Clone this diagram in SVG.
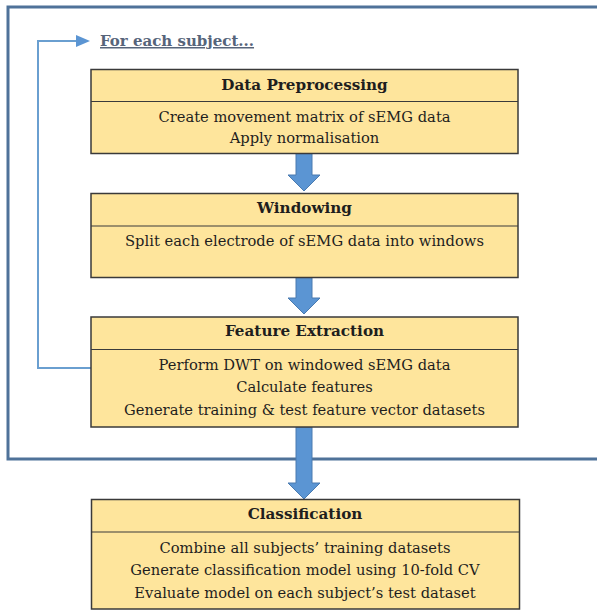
<svg xmlns="http://www.w3.org/2000/svg" width="597" height="612" viewBox="0 0 597 612">
<style>
.box{fill:#fee59c;stroke:#3a3a3a;stroke-width:1.5}
.div{stroke:#3a3a3a;stroke-width:1.2}
.t{font-family:"DejaVu Serif","Liberation Serif",serif;font-size:14.7px;fill:#1e1e1e;text-anchor:middle}
.h{font-weight:bold;font-size:15.2px}
.barrow{fill:#5b95d3;stroke:#4a7bb0;stroke-width:1}
</style>
<rect width="597" height="612" fill="#ffffff"/>
<g id="frame"><path d="M600,7 H8 V459 H600" fill="none" stroke="#4f7299" stroke-width="3"/></g>
<g id="connectors">
<path d="M91,368 H38 V41 H77" fill="none" stroke="#6a9fd0" stroke-width="2"/>
<polygon points="76,35 90,41 76,47" fill="#5b95d3"/>
<polygon class="barrow" points="296,153 312,153 312,175 320,175 304,191 288,175 296,175"/>
<polygon class="barrow" points="296,277 312,277 312,298 320,298 304,314 288,298 296,298"/>
<polygon class="barrow" points="296,427 312,427 312,483 320,483 304,499 288,483 296,483"/>
</g>
<g id="label"><text x="100" y="46" style="font-family:'DejaVu Serif','Liberation Serif',serif;font-size:15px;font-weight:bold;fill:#56647a" text-decoration="underline">For each subject...</text></g>
<g id="preprocessing">
<rect class="box" x="91" y="69.5" width="427" height="84"/>
<line class="div" x1="91" y1="101.5" x2="518" y2="101.5"/>
<text class="t h" x="304.5" y="90">Data Preprocessing</text>
<text class="t" x="304.5" y="122">Create movement matrix of sEMG data</text>
<text class="t" x="304.5" y="143">Apply normalisation</text>
</g>
<g id="windowing">
<rect class="box" x="91" y="193.5" width="427" height="84"/>
<line class="div" x1="91" y1="226" x2="518" y2="226"/>
<text class="t h" x="304.5" y="213">Windowing</text>
<text class="t" x="304.5" y="246">Split each electrode of sEMG data into windows</text>
</g>
<g id="feature">
<rect class="box" x="91" y="317" width="427" height="110"/>
<line class="div" x1="91" y1="349.5" x2="518" y2="349.5"/>
<text class="t h" x="304.5" y="336">Feature Extraction</text>
<text class="t" x="304.5" y="370">Perform DWT on windowed sEMG data</text>
<text class="t" x="304.5" y="392">Calculate features</text>
<text class="t" x="304.5" y="415">Generate training &amp; test feature vector datasets</text>
</g>
<g id="classification">
<rect class="box" x="91.5" y="499.5" width="428" height="109.5"/>
<line class="div" x1="91.5" y1="532" x2="519.5" y2="532"/>
<text class="t h" x="305" y="519">Classification</text>
<text class="t" x="305" y="553">Combine all subjects’ training datasets</text>
<text class="t" x="305" y="575">Generate classification model using 10-fold CV</text>
<text class="t" x="305" y="598">Evaluate model on each subject’s test dataset</text>
</g>
</svg>
